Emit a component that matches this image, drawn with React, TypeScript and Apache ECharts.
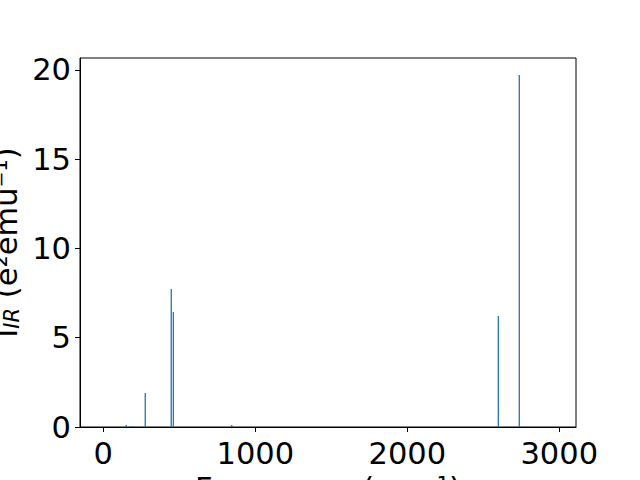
import React, { useEffect, useRef } from "react";
import * as echarts from "echarts";

const frequencies: number[] = [151, 191, 276, 447, 461, 845, 2599, 2737];
const intensities: number[] = [0.11, 0.06, 1.9, 7.73, 6.44, 0.11, 6.22, 19.72];
const xTicks: number[] = [0, 1000, 2000, 3000];
const yTicks: number[] = [0, 5, 10, 15, 20];
const xLabel = "Frequency (cm⁻¹)";
const yLabelMain = "I";
const yLabelSub = "IR";
const yLabelUnit = " (e²emu⁻¹)";

const FONT = "DejaVu Sans";
const FS = 30.5;

export default function App() {
  const ref = useRef<HTMLDivElement>(null);
  useEffect(() => {
    if (!ref.current) return;
    const chart = echarts.init(ref.current, undefined, { renderer: "svg" });
    const data = frequencies.map((f, i) => [f, intensities[i]]);
    chart.setOption({
      animation: false,
      backgroundColor: "#ffffff",
      grid: {
        left: 80,
        right: 64,
        top: 58,
        bottom: 53,
        show: true,
        borderColor: "#000000",
        borderWidth: 1,
        backgroundColor: "transparent",
      },
      xAxis: {
        type: "value",
        min: -153.3,
        max: 3110,
        splitLine: { show: false },
        axisLine: { show: true, onZero: false, lineStyle: { color: "#000", width: 1 } },
        axisTick: {
          show: true,
          inside: false,
          length: 5,
          customValues: xTicks,
          lineStyle: { color: "#000", width: 1 },
        },
        axisLabel: {
          customValues: xTicks,
          margin: 11,
          color: "#000",
          fontFamily: FONT,
          fontSize: FS,
          formatter: (v: number) => String(v),
        },
      },
      yAxis: {
        type: "value",
        min: 0,
        max: 20.67,
        splitLine: { show: false },
        axisLine: { show: true, onZero: false, lineStyle: { color: "#000", width: 1 } },
        axisTick: {
          show: true,
          inside: false,
          length: 5,
          customValues: yTicks,
          lineStyle: { color: "#000", width: 1 },
        },
        axisLabel: {
          customValues: yTicks,
          margin: 9,
          color: "#000",
          fontFamily: FONT,
          fontSize: FS,
          formatter: (v: number) => String(v),
        },
      },
      series: [
        {
          type: "bar",
          data,
          barWidth: 1.3,
          itemStyle: { color: "#1f77b4" },
        },
      ],
      graphic: [
        {
          type: "text",
          x: 328,
          y: 488,
          style: {
            text: xLabel,
            fill: "#000",
            font: `${FS}px "${FONT}"`,
            fontFamily: FONT,
            fontSize: FS,
            align: "center",
            verticalAlign: "middle",
            textAlign: "center",
            textVerticalAlign: "middle",
          },
        },
        {
          type: "text",
          x: 6,
          y: 242.5,
          rotation: Math.PI / 2,
          style: {
            text: `{m|${yLabelMain}}{s|${yLabelSub}}{m|${yLabelUnit}}`,
            fill: "#000",
            align: "center",
            verticalAlign: "middle",
            textAlign: "center",
            textVerticalAlign: "middle",
            rich: {
              m: { fontFamily: FONT, fontSize: FS, fill: "#000", color: "#000" },
              s: {
                fontFamily: FONT,
                fontSize: 21,
                fontStyle: "italic",
                fill: "#000",
                color: "#000",
                verticalAlign: "bottom",
                padding: [12, 0, 0, 0],
              },
            },
          },
        },
      ],
    });
    return () => chart.dispose();
  }, []);
  return (
    <div
      ref={ref}
      style={{ position: "fixed", left: 0, top: 0, width: 640, height: 480 }}
    />
  );
}
